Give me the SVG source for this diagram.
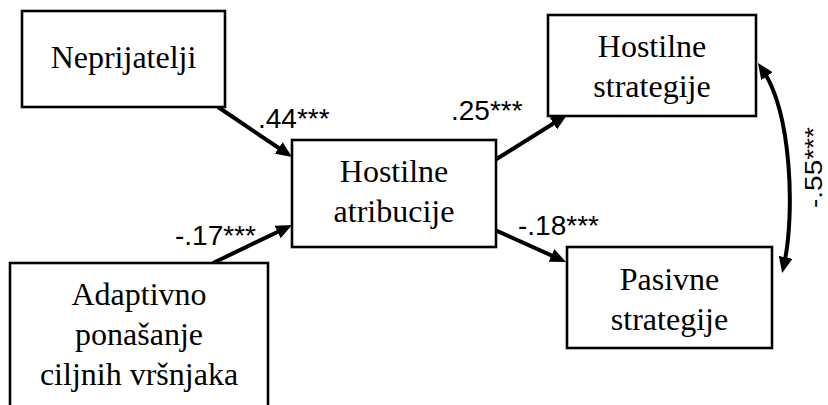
<svg xmlns="http://www.w3.org/2000/svg" width="828" height="405" viewBox="0 0 828 405">
<defs>
<style>
.box{fill:#fff;stroke:#000;stroke-width:2.6}
.nt{font-family:'Liberation Serif','Times New Roman',serif;font-size:32px;fill:#000;text-anchor:middle}
.lb{font-family:'Liberation Sans',Arial,sans-serif;font-size:28px;fill:#000}
.edge{fill:none;stroke:#000;stroke-width:4}
</style>
<marker id="ah" viewBox="0 0 16 14" refX="8" refY="7" markerWidth="16" markerHeight="14" markerUnits="userSpaceOnUse" orient="auto-start-reverse">
<path d="M0,0 L16,7 L0,14 z" fill="#000"/>
</marker>
</defs>
<rect width="828" height="405" fill="#fff"/>
<g id="connectors">
<line class="edge" x1="218" y1="107" x2="285.4" y2="152.5" marker-end="url(#ah)"/>
<line class="edge" x1="213" y1="263" x2="284.8" y2="228.5" marker-end="url(#ah)"/>
<line class="edge" x1="495" y1="160" x2="560.2" y2="119.2" marker-end="url(#ah)"/>
<line class="edge" x1="495" y1="230" x2="558.7" y2="258.7" marker-end="url(#ah)"/>
<path class="edge" d="M762.5,69.6 C792,113 795,215 783.9,265.2" marker-start="url(#ah)" marker-end="url(#ah)"/>
</g>
<g id="labels">
<text class="lb" x="258" y="128">.44***</text>
<text class="lb" x="175" y="245">-.17***</text>
<text class="lb" x="451" y="120">.25***</text>
<text class="lb" x="518" y="235">-.18***</text>
<text class="lb" transform="translate(822,208) rotate(-90) scale(1,0.85)">-.55***</text>
</g>
<g id="n-neprijatelji">
<rect class="box" x="22" y="11" width="203" height="96"/>
<text class="nt" x="123.5" y="68">Neprijatelji</text>
</g>
<g id="n-adaptivno">
<rect class="box" x="10" y="263" width="258" height="160"/>
<text class="nt" x="139" y="305">Adaptivno</text>
<text class="nt" x="139" y="345">ponašanje</text>
<text class="nt" x="139" y="385">ciljnih vršnjaka</text>
</g>
<g id="n-hostilne-atribucije">
<rect class="box" x="292" y="140" width="204" height="107"/>
<text class="nt" x="394" y="182">Hostilne</text>
<text class="nt" x="394" y="222">atribucije</text>
</g>
<g id="n-hostilne-strategije">
<rect class="box" x="548" y="15" width="208" height="101"/>
<text class="nt" x="652" y="57">Hostilne</text>
<text class="nt" x="652" y="97">strategije</text>
</g>
<g id="n-pasivne-strategije">
<rect class="box" x="567" y="247" width="205" height="101"/>
<text class="nt" x="669.5" y="290">Pasivne</text>
<text class="nt" x="669.5" y="330">strategije</text>
</g>
</svg>
